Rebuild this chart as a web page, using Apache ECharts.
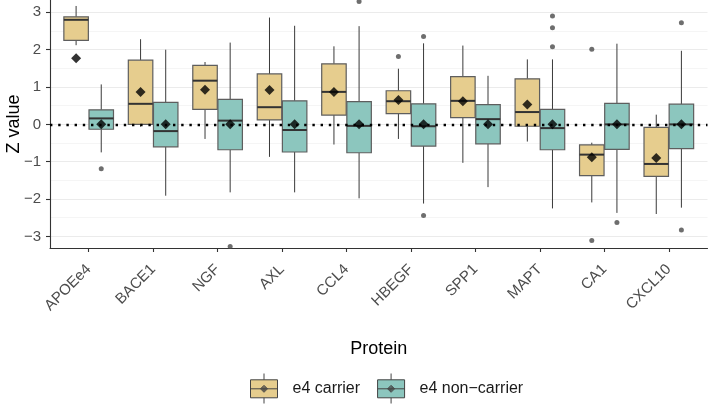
<!DOCTYPE html>
<html><head><meta charset="utf-8">
<script src="https://cdn.jsdelivr.net/npm/echarts@6/dist/echarts.min.js"></script>
<style>html,body{margin:0;padding:0;background:#fff}#c{width:709px;height:404px}</style>
</head><body><div id="c"></div><script>
const categories = ['APOEe4','BACE1','NGF','AXL','CCL4','HBEGF','SPP1','MAPT','CA1','CXCL10'];
// [lower whisker, Q1, median, Q3, upper whisker]
const carrierBox = [
  [2.12, 2.25, 2.80, 2.88, 3.17],
  [-0.06, 0.00, 0.55, 1.72, 2.28],
  [-0.39, 0.40, 1.17, 1.58, 1.67],
  [-0.87, 0.12, 0.46, 1.35, 2.86],
  [-0.54, 0.25, 0.87, 1.62, 2.09],
  [-0.39, 0.29, 0.62, 0.90, 1.49],
  [-1.03, 0.18, 0.63, 1.28, 2.11],
  [-0.46, -0.05, 0.33, 1.22, 1.74],
  [-2.09, -1.37, -0.81, -0.55, -0.49],
  [-2.40, -1.39, -1.06, -0.08, 0.26]
];
const nonCarrierBox = [
  [-0.75, -0.13, 0.16, 0.39, 1.07],
  [-1.91, -0.60, -0.18, 0.59, 2.00],
  [-1.82, -0.68, 0.10, 0.67, 2.19],
  [-1.82, -0.74, -0.15, 0.63, 2.64],
  [-1.98, -0.76, -0.04, 0.61, 2.63],
  [-2.12, -0.58, -0.05, 0.55, 2.17],
  [-1.68, -0.52, 0.14, 0.53, 1.30],
  [-2.25, -0.68, -0.10, 0.40, 1.74],
  [-2.37, -0.67, 0.00, 0.56, 2.16],
  [-2.23, -0.65, 0.00, 0.54, 1.97]
];
const carrierMean = [1.77, 0.87, 0.93, 0.92, 0.87, 0.65, 0.62, 0.53, -0.88, -0.90];
const nonCarrierMean = [0, 0, 0, 0, 0, 0, 0, 0, 0, 0];
// [category index, value]
const carrierOutliers = [[5, 1.82], [8, 2.01], [8, -3.11]];
const nonCarrierOutliers = [[0, -1.19], [2, -3.27], [4, 3.29], [5, 2.35], [5, -2.44], [7, 2.90], [7, 2.59], [7, 2.08], [8, -2.63], [9, 2.72], [9, -2.83]];
const yTicks = [-3, -2, -1, 0, 1, 2, 3];
const majorGrid = [-3, -2, -1, 0, 1, 2, 3];
const minorGrid = [-2.5, -1.5, -0.5, 0.5, 1.5, 2.5];
const seriesNames = ['e4 carrier', 'e4 non\u2212carrier'];

const DODGE = 0.195, BOXW = 0.38;
const FONT = '"Liberation Sans", Arial, Helvetica, sans-serif';
const COLORS = ['#E6CD8E', '#8CC6BE'];
const idx = categories.map((c, i) => i);

function boxData(arr) { return arr.map((b, i) => [i].concat(b)); }
function boxRender(offset, fill) {
  return function (params, api) {
    const x = api.value(0) + offset;
    const lo = api.coord([x, api.value(1)]);
    const q1 = api.coord([x, api.value(2)]);
    const md = api.coord([x, api.value(3)]);
    const q3 = api.coord([x, api.value(4)]);
    const hi = api.coord([x, api.value(5)]);
    const cx = lo[0];
    const hw = api.coord([x + BOXW / 2, 0])[0] - cx;
    const wStyle = { stroke: '#3a3a3a', lineWidth: 1 };
    return {
      type: 'group', children: [
        { type: 'line', shape: { x1: cx, y1: hi[1], x2: cx, y2: q3[1] }, style: wStyle },
        { type: 'line', shape: { x1: cx, y1: q1[1], x2: cx, y2: lo[1] }, style: wStyle },
        { type: 'rect', shape: { x: cx - hw, y: q3[1], width: 2 * hw, height: q1[1] - q3[1] }, style: { fill: fill, stroke: '#5e5e5e', lineWidth: 1.2 } },
        { type: 'line', shape: { x1: cx - hw, y1: md[1], x2: cx + hw, y2: md[1] }, style: { stroke: '#333', lineWidth: 2 } }
      ]
    };
  };
}
const legendIcon = 'path://M13.5,0V6.3M0,6.3H27V24.3H0ZM0,15.3H27M13.5,24.3V30M13.5,11.8L17,15.3L13.5,18.8L10,15.3ZM13.5,12.8L16,15.3L13.5,17.8L11,15.3ZM13.5,13.8L15,15.3L13.5,16.8L12,15.3ZM13.5,14.6L14.2,15.3L13.5,16L12.8,15.3Z';

const chart = echarts.init(document.getElementById('c'), null, { renderer: 'canvas' });
const gridLines = majorGrid.map(v => ({ yAxis: v, lineStyle: { color: '#ebebeb', width: 1.1, type: 'solid' } }))
  .concat(minorGrid.map(v => ({ yAxis: v, lineStyle: { color: '#f3f3f3', width: 0.8, type: 'solid' } })));

chart.setOption({
  animation: false,
  backgroundColor: '#fff',
  textStyle: { fontFamily: FONT },
  grid: { left: 50, right: 1.5, top: 0, bottom: 156, containLabel: false, outerBoundsMode: 'none' },
  xAxis: {
    type: 'value', min: -0.6, max: 9.6,
    splitLine: { show: false },
    axisLine: { show: true, onZero: false, lineStyle: { color: '#333', width: 1.1 } },
    axisTick: { show: true, customValues: idx, length: 4, lineStyle: { color: '#333', width: 1.1 } },
    axisLabel: { customValues: idx, formatter: v => categories[Math.round(v)], rotate: 45, margin: 19, fontSize: 15, color: '#4d4d4d', fontFamily: FONT },
    name: 'Protein', nameLocation: 'middle', nameGap: 92, nameMoveOverlap: false,
    nameTextStyle: { fontSize: 18, color: '#000', fontFamily: FONT }
  },
  yAxis: {
    type: 'value', min: -3.31, max: 3.33,
    splitLine: { show: false },
    axisLine: { show: true, onZero: false, lineStyle: { color: '#333', width: 1.1 } },
    axisTick: { show: true, customValues: yTicks, length: 4, lineStyle: { color: '#333', width: 1.1 } },
    axisLabel: { customValues: yTicks, formatter: v => (v < 0 ? '\u2212' + Math.abs(v) : String(v)), margin: 9, fontSize: 15, color: '#4d4d4d', fontFamily: FONT },
    name: 'Z value', nameLocation: 'middle', nameGap: 27, nameRotate: 90, nameMoveOverlap: false,
    nameTextStyle: { fontSize: 18, color: '#000', fontFamily: FONT }
  },
  legend: {
    data: seriesNames,
    left: 250, top: 373, padding: 0,
    itemWidth: 27, itemHeight: 30, itemGap: 17,
    icon: legendIcon,
    itemStyle: { borderColor: '#444', borderWidth: 1 },
    textStyle: { fontSize: 16, color: '#1a1a1a', fontFamily: FONT, padding: [0, 0, 0, 10] },
    selectedMode: false
  },
  series: [
    { type: 'line', name: 'grid', data: [], silent: true, z: 0,
      markLine: { silent: true, z: 0, symbol: 'none', label: { show: false }, data: gridLines, animation: false } },
    { type: 'custom', name: seriesNames[0], data: boxData(carrierBox), renderItem: boxRender(-DODGE, COLORS[0]),
      encode: { x: 0, y: [1, 2, 3, 4, 5] }, itemStyle: { color: COLORS[0] }, z: 2, silent: true },
    { type: 'custom', name: seriesNames[1], data: boxData(nonCarrierBox), renderItem: boxRender(DODGE, COLORS[1]),
      encode: { x: 0, y: [1, 2, 3, 4, 5] }, itemStyle: { color: COLORS[1] }, z: 2, silent: true },
    { type: 'scatter', name: 'out1', data: carrierOutliers.map(d => [d[0] - DODGE, d[1]]), symbol: 'circle', symbolSize: 5,
      itemStyle: { color: '#4a4a4a' }, z: 3, silent: true },
    { type: 'scatter', name: 'out2', data: nonCarrierOutliers.map(d => [d[0] + DODGE, d[1]]), symbol: 'circle', symbolSize: 5,
      itemStyle: { color: '#4a4a4a' }, z: 3, silent: true },
    { type: 'line', name: 'zero', data: [], silent: true, z: 4,
      markLine: { silent: true, z: 4, symbol: 'none', label: { show: false }, data: [{ yAxis: 0 }],
        lineStyle: { color: '#000', width: 2.4, type: [2.4, 5.8], cap: 'butt' } } },
    { type: 'scatter', name: 'mean1', data: carrierMean.map((v, i) => [i - DODGE, v]), symbol: 'diamond', symbolSize: 10,
      itemStyle: { color: '#000' }, z: 5, silent: true },
    { type: 'scatter', name: 'mean2', data: nonCarrierMean.map((v, i) => [i + DODGE, v]), symbol: 'diamond', symbolSize: 10,
      itemStyle: { color: '#000' }, z: 5, silent: true }
  ]
});
</script></body></html>
